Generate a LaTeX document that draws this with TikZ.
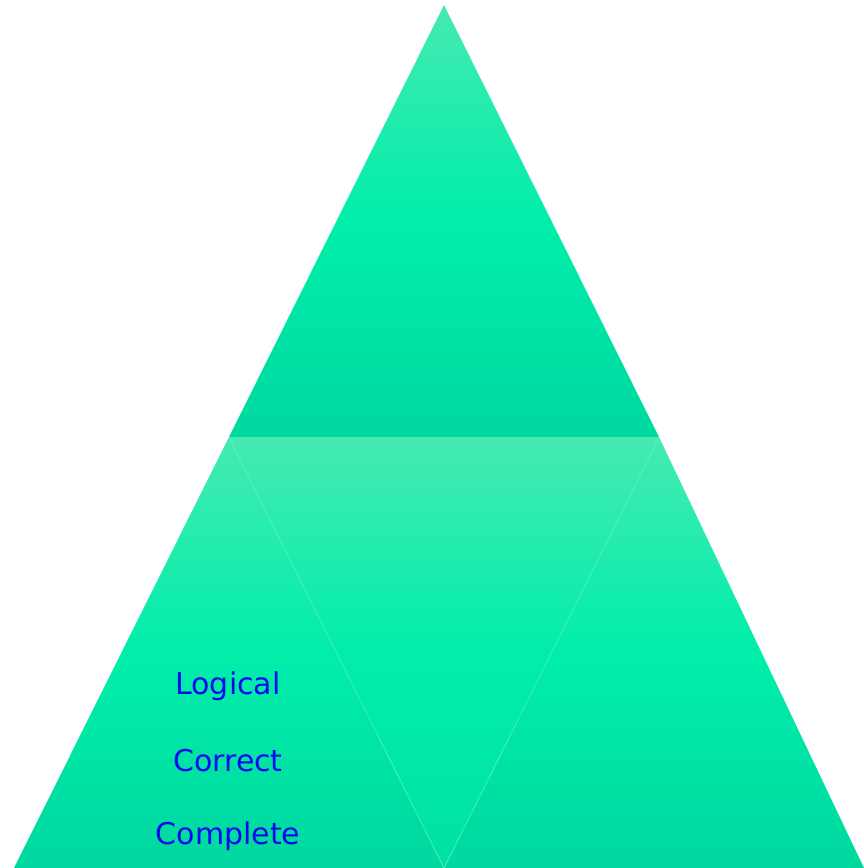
\documentclass[tikz,border=0pt]{standalone}
\usepackage{fontspec}
\setmainfont{DejaVu Sans}
\usetikzlibrary{positioning, calc}
\definecolor{greentop}{HTML}{45EAB2}
\definecolor{greenmid}{HTML}{00EEAA}
\definecolor{greenlow}{HTML}{00D8A0}
\definecolor{seam}{HTML}{5EF0C2}
\definecolor{labelblue}{HTML}{0A0AEE}

\begin{document}
\begin{tikzpicture}[x=1pt, y=-1pt,
    facet/.style={top color=greentop, bottom color=greenlow, middle color=greenmid},
    label/.style={text=labelblue, font=\fontsize{30}{36}\selectfont, inner sep=0pt}]
  \useasboundingbox (0,0) rectangle (864,868);
  % upper, left and right triangles
  \shade[facet] (444,5) -- (659,437) -- (229,437) -- cycle;
  \shade[facet] (229,437) -- (444,868) -- (14,868) -- cycle;
  \shade[facet] (659,437) -- (864,868) -- (444,868) -- cycle;
  % inverted middle triangle
  \shade[top color=greentop, bottom color=greenlow!60!greenmid, middle color=greenmid]
    (229,437) -- (659,437) -- (444,868) -- cycle;
  \draw[seam, line width=0.5pt] (229,437) -- (444,868) -- (659,437);
  % labels
  \node[label] (logical) at (228,686) {Logical};
  \node[label] (correct) at (228,761) {Correct};
  \node[label] (complete) at (228,836) {Complete};
\end{tikzpicture}
\end{document}
